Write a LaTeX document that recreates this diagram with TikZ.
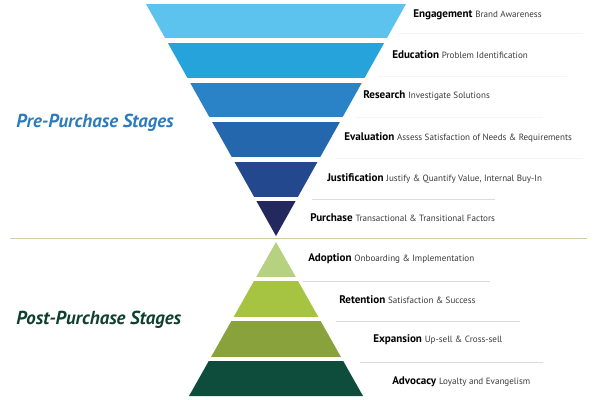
\documentclass[tikz,border=0pt]{standalone}
\usepackage{fontspec}
\setmainfont{PT Sans}
\definecolor{topa}{HTML}{5CC3EE}
\definecolor{topb}{HTML}{27A3DC}
\definecolor{topc}{HTML}{2A83C6}
\definecolor{topd}{HTML}{2467AD}
\definecolor{tope}{HTML}{24488E}
\definecolor{topf}{HTML}{23295F}
\definecolor{bota}{HTML}{B6D280}
\definecolor{botb}{HTML}{A7C342}
\definecolor{botc}{HTML}{8AA23C}
\definecolor{botd}{HTML}{0E4D3C}
\definecolor{preblue}{HTML}{2A7BBE}
\definecolor{postgreen}{HTML}{0F3F2F}
\definecolor{divider}{HTML}{CFCFA8}
\definecolor{descgray}{HTML}{3A3A3A}
\newcommand{\stagedesc}[1]{{\mdseries\fontsize{6.8}{8}\selectfont\color{descgray}#1}}
\begin{document}
\begin{tikzpicture}[x=0.75pt,y=-0.75pt,
  stage/.style={anchor=west, inner sep=0pt, text=black, font=\bfseries\fontsize{8.3}{10}\selectfont},
  heading/.style={anchor=west, inner sep=0pt, font=\bfseries\itshape\fontsize{14.1}{16}\selectfont},
  rulefaint/.style={draw=black!4, line width=0.6pt},
  rulelight/.style={draw=black!14, line width=0.6pt}]
\useasboundingbox (0,0) rectangle (600,400);

% funnel
\begin{scope}
\clip (146,4) -- (406,4) -- (276,236) -- cycle;
\fill[topa] (140,4) rectangle (410,38);
\fill[topb] (140,43) rectangle (410,78);
\fill[topc] (140,83) rectangle (410,117);
\fill[topd] (140,122) rectangle (410,157);
\fill[tope] (140,162) rectangle (410,197);
\fill[topf] (140,201) rectangle (410,237);
\end{scope}

% pyramid
\begin{scope}
\clip (276,242) -- (363,396) -- (189,396) -- cycle;
\fill[bota] (180,241) rectangle (370,277);
\fill[botb] (180,281) rectangle (370,317);
\fill[botc] (180,321) rectangle (370,357);
\fill[botd] (180,361) rectangle (370,397);
\end{scope}

% divider
\draw[divider, line width=1.4pt] (10,238.5) -- (587,238.5);

% rules under the labels
\draw[rulefaint] (397,33) -- (583,33);
\draw[rulefaint] (378,76) -- (567,76);
\draw[rulefaint] (355,117) -- (543,117);
\draw[rulefaint] (335,158) -- (583,158);
\draw[rulelight] (312,199) -- (495,199);
\draw[rulelight] (303,281) -- (490,281);
\draw[rulelight] (336,321) -- (520,321);
\draw[rulelight] (360,362) -- (543,362);

% headings
\node[heading, text=preblue] (pre) at (16,123) {Pre-Purchase Stages};
\node[heading, text=postgreen] (post) at (16,320) {Post-Purchase Stages};

% stage labels
\node[stage] (eng) at (413,15) {Engagement \stagedesc{Brand Awareness}};
\node[stage] (edu) at (392,55) {Education \stagedesc{Problem Identification}};
\node[stage] (res) at (363,96) {Research \stagedesc{Investigate Solutions}};
\node[stage] (eva) at (344,137) {Evaluation \stagedesc{Assess Satisfaction of Needs \& Requirements}};
\node[stage] (jus) at (327,178) {Justification \stagedesc{Justify \& Quantify Value, Internal Buy-In}};
\node[stage] (pur) at (310,218) {Purchase \stagedesc{Transactional \& Transitional Factors}};
\node[stage] (ado) at (308,259) {Adoption \stagedesc{Onboarding \& Implementation}};
\node[stage] (ret) at (339,300) {Retention \stagedesc{Satisfaction \& Success}};
\node[stage] (exp) at (373,340) {Expansion \stagedesc{Up-sell \& Cross-sell}};
\node[stage] (adv) at (392,382) {Advocacy \stagedesc{Loyalty and Evangelism}};
\end{tikzpicture}
\end{document}
